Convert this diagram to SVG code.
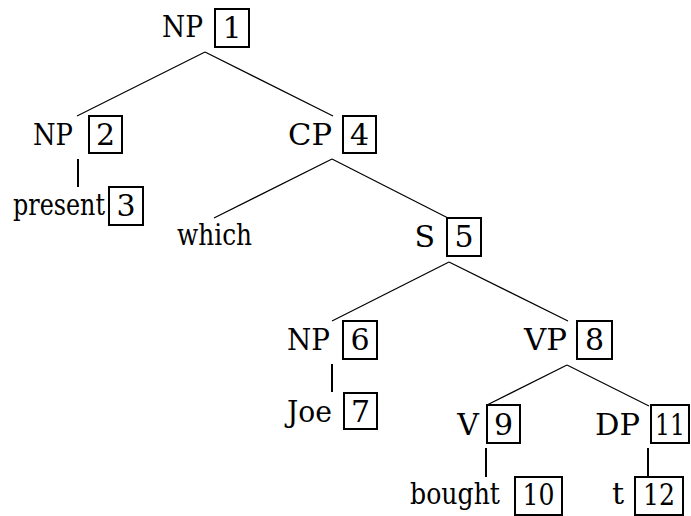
<svg xmlns="http://www.w3.org/2000/svg" width="691" height="516" viewBox="0 0 691 516">
<style>
text{font-family:'DejaVu Serif','Liberation Serif','Noto Serif',serif;font-size:30px;fill:#000}
.n{text-anchor:middle}
.r{text-anchor:end}
rect{fill:none;stroke:#000;stroke-width:2}
.e line{stroke:#000;stroke-width:1.2}
.v line{stroke-width:2}
</style>
<rect x="0" y="0" width="691" height="516" style="fill:#fff;stroke:none"/>
<g class="e" id="connectors">
<line x1="205" y1="52" x2="77" y2="116"/>
<line x1="205" y1="52" x2="333" y2="116"/>
<line x1="332" y1="159" x2="214" y2="218"/>
<line x1="332" y1="159" x2="448" y2="218"/>
<line x1="449" y1="262" x2="332" y2="321"/>
<line x1="449" y1="262" x2="568" y2="321"/>
<line x1="567" y1="365" x2="487" y2="405"/>
<line x1="567" y1="365" x2="649" y2="406"/>
<g class="v">
<line x1="78" y1="159" x2="78" y2="187"/>
<line x1="332" y1="364" x2="332" y2="392"/>
<line x1="486" y1="448" x2="486" y2="477"/>
<line x1="648" y1="448" x2="648" y2="476"/>
</g>
</g>
<g id="n1"><text x="162" y="37" textLength="41" lengthAdjust="spacingAndGlyphs">NP</text><rect x="215" y="9" width="34" height="38"/><text class="n" x="232" y="38">1</text></g>
<g id="n2"><text x="33" y="145" textLength="40" lengthAdjust="spacingAndGlyphs">NP</text><rect x="89" y="116" width="33" height="37"/><text class="n" x="105.5" y="145">2</text></g>
<g id="n3"><text x="13" y="215" textLength="92" lengthAdjust="spacingAndGlyphs">present</text><rect x="109" y="187" width="34" height="38"/><text class="n" x="126" y="216">3</text></g>
<g id="n4"><text x="288" y="145" textLength="44" lengthAdjust="spacingAndGlyphs">CP</text><rect x="343" y="116" width="33" height="37"/><text class="n" x="359.5" y="145">4</text></g>
<g id="which"><text x="177" y="245" textLength="75" lengthAdjust="spacingAndGlyphs">which</text></g>
<g id="n5"><text class="r" x="435" y="247">S</text><rect x="447" y="218" width="34" height="38"/><text class="n" x="464" y="247">5</text></g>
<g id="n6"><text x="287" y="350" textLength="43" lengthAdjust="spacingAndGlyphs">NP</text><rect x="343" y="321" width="34" height="38"/><text class="n" x="360" y="350">6</text></g>
<g id="n7"><text x="287" y="422" textLength="45" lengthAdjust="spacingAndGlyphs">Joe</text><rect x="344" y="393" width="33" height="36"/><text class="n" x="360.5" y="422">7</text></g>
<g id="n8"><text x="524" y="350" textLength="43" lengthAdjust="spacingAndGlyphs">VP</text><rect x="577" y="321" width="35" height="38"/><text class="n" x="594.5" y="350">8</text></g>
<g id="n9"><text class="r" x="479" y="435">V</text><rect x="487" y="405" width="33" height="38"/><text class="n" x="503.5" y="435">9</text></g>
<g id="n10"><text x="410" y="504" textLength="90" lengthAdjust="spacingAndGlyphs">bought</text><rect x="515" y="477" width="47" height="38"/><text class="n" x="538.5" y="505" textLength="32" lengthAdjust="spacingAndGlyphs">10</text></g>
<g id="n11"><text x="595" y="435" textLength="45" lengthAdjust="spacingAndGlyphs">DP</text><rect x="651" y="405" width="38" height="38"/><text class="n" x="670" y="435" textLength="30" lengthAdjust="spacingAndGlyphs">11</text></g>
<g id="n12"><text class="r" x="624" y="504">t</text><rect x="635" y="477" width="48" height="38"/><text class="n" x="659" y="505" textLength="32" lengthAdjust="spacingAndGlyphs">12</text></g>
</svg>
